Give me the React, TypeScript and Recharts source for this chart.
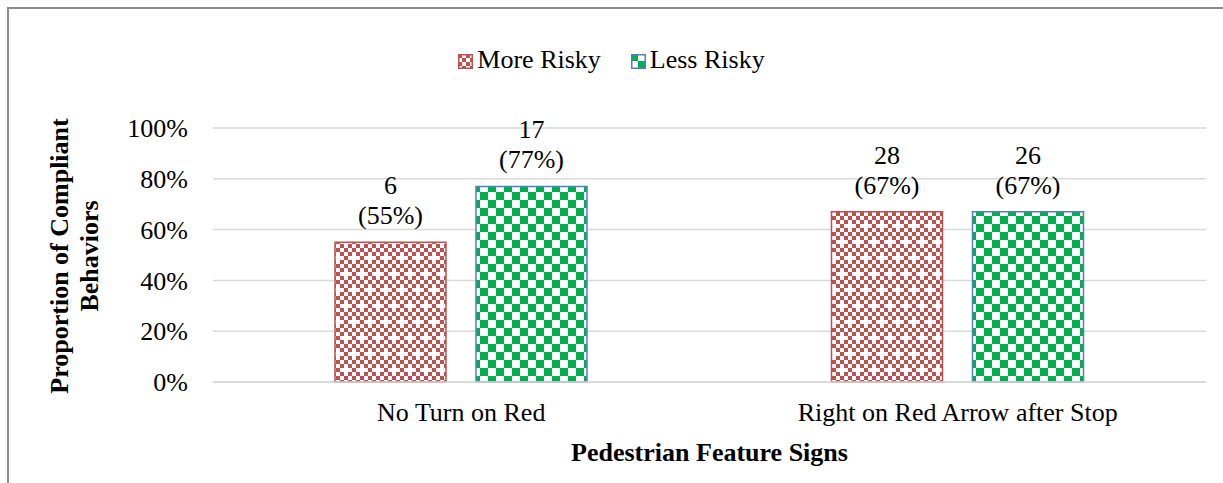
import { BarChart, Bar, XAxis, YAxis, CartesianGrid, Legend, LabelList } from "recharts";

const signs = ["No Turn on Red", "Right on Red Arrow after Stop"];
const moreRiskyPct = [0.55, 0.67];
const lessRiskyPct = [0.77, 0.67];
const moreRiskyCount = [6, 28];
const lessRiskyCount = [17, 26];
const yTicks = [0, 0.2, 0.4, 0.6, 0.8, 1];

const data = signs.map((sign, i) => ({
  sign,
  more: moreRiskyPct[i],
  less: lessRiskyPct[i],
}));

const FONT = '"Liberation Serif", "Times New Roman", serif';
const RED = "#C0504D";
const GREEN = "#00B050";

// red: small checker with white "crosses" knocked out
const redCells: [number, number][] = [];
for (let r = 0; r < 8; r++) {
  for (let c = 0; c < 8; c++) {
    if ((r + c) % 2 !== 0) continue;
    const hole =
      (r === 0 && (c === 0 || c === 4)) || (r === 4 && (c === 2 || c === 6));
    if (!hole) redCells.push([c, r]);
  }
}

function Patterns() {
  return (
    <svg width={0} height={0} style={{ position: "absolute" }}>
      <defs>
        <pattern id="redPat" width={32} height={32} patternUnits="userSpaceOnUse">
          <rect width={32} height={32} fill="#fff" />
          {redCells.map(([c, r]) => (
            <rect key={`${c}-${r}`} x={c * 4} y={r * 4} width={4} height={4} fill={RED} />
          ))}
        </pattern>
        <pattern id="greenPat" width={16} height={16} patternUnits="userSpaceOnUse">
          <rect width={16} height={16} fill="#fff" />
          <rect x={0} y={0} width={8} height={8} fill={GREEN} />
          <rect x={8} y={8} width={8} height={8} fill={GREEN} />
        </pattern>
        <pattern id="redIcon" width={8} height={8} patternUnits="userSpaceOnUse">
          <rect width={8} height={8} fill="#fff" />
          <rect x={0} y={0} width={4} height={4} fill={RED} />
          <rect x={4} y={4} width={4} height={4} fill={RED} />
        </pattern>
        <pattern id="greenIcon" width={14} height={14} patternUnits="userSpaceOnUse">
          <rect width={14} height={14} fill="#fff" />
          <rect x={0} y={0} width={7} height={7} fill={GREEN} />
          <rect x={7} y={7} width={7} height={7} fill={GREEN} />
        </pattern>
      </defs>
    </svg>
  );
}

const makeLabel = (counts: number[]) => (props: any) => {
  const { x, y, width, value, index } = props;
  const cx = Number(x) + Number(width) / 2;
  return (
    <text textAnchor="middle" fontFamily={FONT} fontSize={26} fill="#000">
      <tspan x={cx} y={Number(y) - 48}>{counts[index]}</tspan>
      <tspan x={cx} y={Number(y) - 18}>({Math.round(Number(value) * 100)}%)</tspan>
    </text>
  );
};

function LegendBox() {
  const items = [
    { name: "More Risky", fill: "url(#redIcon)", stroke: RED },
    { name: "Less Risky", fill: "url(#greenIcon)", stroke: "#4F81BD" },
  ];
  return (
    <div
      style={{
        display: "flex",
        justifyContent: "center",
        gap: 30,
        fontFamily: FONT,
        fontSize: 26,
        lineHeight: "30px",
        height: 30,
        color: "#000",
      }}
    >
      {items.map((it) => (
        <div key={it.name} style={{ display: "flex", alignItems: "center" }}>
          <svg width={15} height={15} style={{ marginRight: 4, marginTop: 2 }}>
            <rect x={0.75} y={0.75} width={13.5} height={13.5} fill={it.fill} stroke={it.stroke} strokeWidth={1.5} />
          </svg>
          <span>{it.name}</span>
        </div>
      ))}
    </div>
  );
}

export default function App() {
  return (
    <div style={{ position: "absolute", left: 0, top: 0, width: 1223, height: 483, overflow: "hidden", background: "#fff" }}>
      <Patterns />
      <div
        style={{
          position: "absolute",
          left: 7,
          top: 7,
          width: 1216,
          height: 476,
          borderTop: "2px solid #8c8c8c",
          borderLeft: "2px solid #8c8c8c",
          boxSizing: "border-box",
        }}
      />
      <div style={{ position: "absolute", left: 0, top: 0 }}>
        <BarChart
          width={1223}
          height={483}
          data={data}
          margin={{ top: 98, right: 17, bottom: 61, left: 133 }}
          barSize={111}
          barGap={30}
        >
          <CartesianGrid vertical={false} stroke="#D9D9D9" strokeWidth={1.5} />
          <XAxis
            dataKey="sign"
            height={40}
            tickLine={false}
            axisLine={{ stroke: "#D9D9D9", strokeWidth: 1.5 }}
            tickMargin={15}
            tick={{ fill: "#000", fontSize: 26, fontFamily: FONT }}
          />
          <YAxis
            width={80}
            domain={[0, 1]}
            ticks={yTicks}
            tickFormatter={(v: number) => `${Math.round(v * 100)}%`}
            tickLine={false}
            axisLine={false}
            tickMargin={19}
            tick={{ fill: "#000", fontSize: 26, fontFamily: FONT }}
          />
          <Legend
            verticalAlign="top"
            height={30}
            content={() => <LegendBox />}
            wrapperStyle={{ top: 45, left: 0, width: 1223 }}
          />
          <Bar
            dataKey="more"
            name="More Risky"
            fill="url(#redPat)"
            stroke={RED}
            strokeWidth={1.5}
            isAnimationActive={false}
          >
            <LabelList dataKey="more" content={makeLabel(moreRiskyCount)} />
          </Bar>
          <Bar
            dataKey="less"
            name="Less Risky"
            fill="url(#greenPat)"
            stroke="#4F81BD"
            strokeWidth={1.5}
            isAnimationActive={false}
          >
            <LabelList dataKey="less" content={makeLabel(lessRiskyCount)} />
          </Bar>
        </BarChart>
      </div>
      <svg
        width={1223}
        height={483}
        style={{ position: "absolute", left: 0, top: 0, pointerEvents: "none" }}
      >
        <text
          transform="translate(68, 256) rotate(-90)"
          textAnchor="middle"
          fontFamily={FONT}
          fontSize={26}
          fontWeight="bold"
          fill="#000"
        >
          <tspan x={0} y={0}>Proportion of Compliant</tspan>
          <tspan x={0} y={30}>Behaviors</tspan>
        </text>
        <text x={709.5} y={461} textAnchor="middle" fontFamily={FONT} fontSize={26} fontWeight="bold" fill="#000">
          Pedestrian Feature Signs
        </text>
      </svg>
    </div>
  );
}
